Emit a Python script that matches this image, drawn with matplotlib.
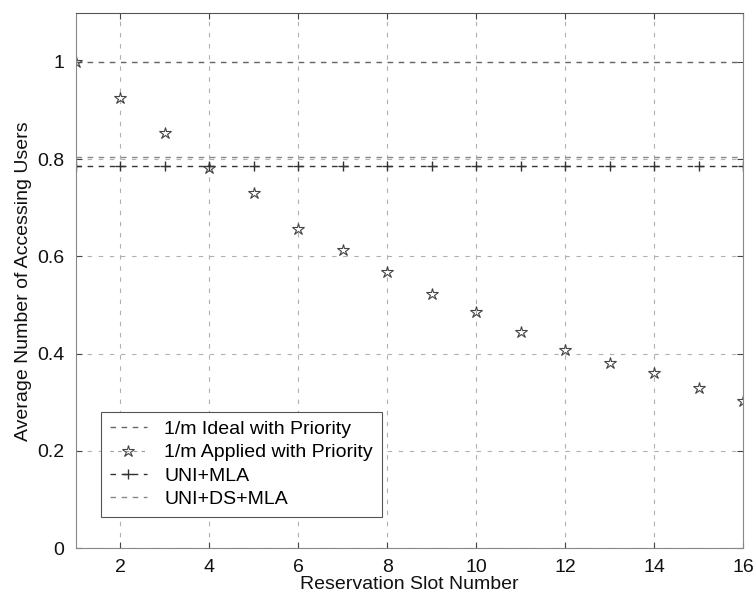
import matplotlib
matplotlib.use("Agg")
import matplotlib.pyplot as plt
from matplotlib.lines import Line2D
import numpy as np

plt.rcParams['font.family'] = ['Liberation Sans', 'DejaVu Sans']

slots = list(range(1, 17))
ideal = [1.0] * 16
applied = [1.0, 0.926, 0.854, 0.782, 0.730, 0.656, 0.613, 0.568,
           0.523, 0.486, 0.445, 0.407, 0.381, 0.360, 0.329, 0.302]
uni_mla = [0.786] * 16
uni_ds_mla = [0.804] * 16
labels = ['1/m Ideal with Priority', '1/m Applied with Priority',
          'UNI+MLA', 'UNI+DS+MLA']

x_ticks = [2, 4, 6, 8, 10, 12, 14, 16]
y_ticks = [0, 0.2, 0.4, 0.6, 0.8, 1.0]
y_tick_labels = ["0", "0.2", "0.4", "0.6", "0.8", "1"]

fig = plt.figure(figsize=(7.56, 5.98), dpi=100)
ax = fig.add_axes([0.1, 0.0836, 0.883, 0.894])

h1, = ax.plot(slots, ideal, linestyle=(0, (4, 4)), color='#666666', lw=1.0)
ax.plot(slots, applied, linestyle='none', marker='*', markersize=9,
        markerfacecolor='none', markeredgecolor='#444444', markeredgewidth=0.8)
h3, = ax.plot(slots, uni_mla, linestyle=(0, (4, 4)), color='#333333', lw=1.0,
              marker='+', markersize=7, markeredgewidth=1.0)
h4, = ax.plot(slots, uni_ds_mla, linestyle=(0, (4, 4)), color='#888888', lw=1.0)
h2 = Line2D([], [], linestyle=(0, (3, 4)), color='#999999', lw=0.8,
            marker='*', markersize=9, markerfacecolor='none',
            markeredgecolor='#444444', markeredgewidth=0.8)

ax.set_xlim(1, 16)
ax.set_ylim(0, 1.1)
ax.set_xticks(x_ticks)
ax.set_yticks(y_ticks)
ax.set_yticklabels(y_tick_labels)
ax.grid(True, linestyle=(0, (4, 6)), color='#b0b0b0', lw=0.8)
ax.tick_params(direction='in', labelsize=14, colors='#444444', length=4,
               top=True, right=True, labelcolor='#111111')
ax.tick_params(axis='x', pad=8)
ax.tick_params(axis='y', pad=8)
for name, s in ax.spines.items():
    s.set_color('#888888')
    s.set_linewidth(0.8)
ax.spines['top'].set_color('#555555')

ax.set_xlabel('Reservation Slot Number', fontsize=14, color='#111111', labelpad=0)
ax.set_ylabel('Average Number of Accessing Users', fontsize=14, color='#111111', labelpad=4)

leg = ax.legend([h1, h2, h3, h4], labels, loc='lower left',
                bbox_to_anchor=(0.038, 0.058), fontsize=14,
                frameon=True, fancybox=False, framealpha=1, edgecolor='#555555',
                handlelength=1.9, handletextpad=0.9, borderpad=0.45,
                labelspacing=0.3, borderaxespad=0)
leg.get_frame().set_linewidth(0.8)

fig.savefig('out.png', dpi=100)
